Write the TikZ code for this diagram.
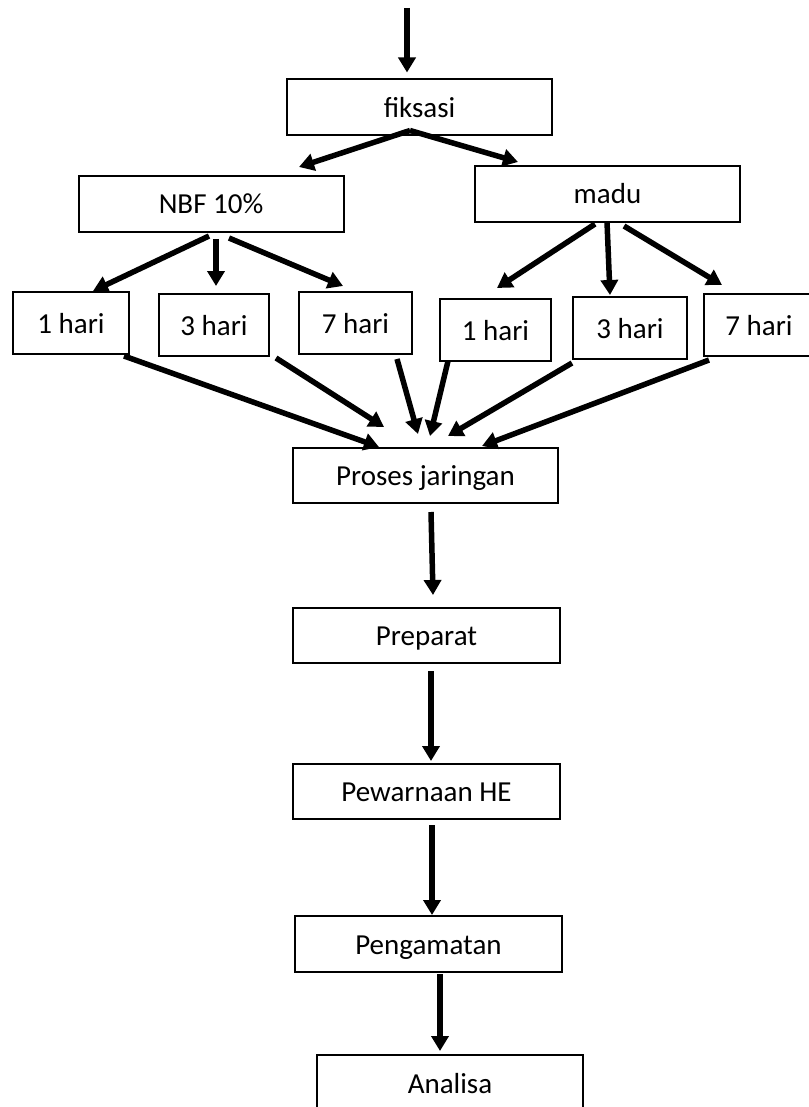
\documentclass[tikz,border=0pt]{standalone}
\usepackage{fontspec}
\setmainfont{Carlito}
\usetikzlibrary{arrows.meta}

\begin{document}
\begin{tikzpicture}[x=1pt, y=-1pt,
    box/.style={rectangle, draw=black, line width=2pt, fill=white,
        minimum width=265pt, minimum height=56pt, inner sep=0pt,
        text height=20pt, text depth=0pt,
        font=\fontsize{29}{35}\selectfont},
    day/.style={box, minimum width=112pt, minimum height=62pt},
    flow/.style={line width=5.5pt, -{Triangle[length=15pt,width=17pt]}}
]
    \useasboundingbox (0,0) rectangle (808,1107);
    \coordinate (start) at (407,8);
    \node[box] (fiksasi) at (419.5,107.5) {fiksasi};
    \node[box] (nbf) at (211,204) {NBF 10\%};
    \node[box] (madu) at (607.5,194) {madu};
    \node[day, minimum width=116pt] (nbfa) at (71,323) {1 hari};
    \node[day, minimum width=110pt] (nbfb) at (214,325) {3 hari};
    \node[day, minimum width=113pt] (nbfc) at (355.5,323) {7 hari};
    \node[day, minimum width=111pt] (madua) at (495.5,330) {1 hari};
    \node[day, minimum width=114pt] (madub) at (630,328) {3 hari};
    \node[day, minimum width=110pt] (maduc) at (759,325) {7 hari};
    \node[box, minimum height=55pt] (proses) at (425.5,475.5) {Proses jaringan};
    \node[box, minimum width=267pt, minimum height=55pt] (preparat) at (426.5,635.5) {Preparat};
    \node[box, minimum width=267pt, minimum height=55pt] (pewarnaan) at (426.5,791.5) {Pewarnaan HE};
    \node[box, minimum width=267pt] (pengamatan) at (428.5,944) {Pengamatan};
    \node[box, minimum width=266pt] (analisa) at (450,1083) {Analisa};
    % top
    \draw[flow] (start) -- ([xshift=-12.5pt,yshift=6pt]fiksasi.north);
    \draw[flow] ([xshift=-9.5pt,yshift=6pt]fiksasi.south) -- ([xshift=88pt,yshift=8pt]nbf.north);
    \draw[flow] ([xshift=-9.5pt,yshift=6pt]fiksasi.south) -- ([xshift=-89.5pt,yshift=3pt]madu.north);
    % NBF 10%
    \draw[flow] ([xshift=-2pt,yshift=-3pt]nbf.south) -- ([xshift=22pt]nbfa.north);
    \draw[flow] ([xshift=5pt,yshift=-6pt]nbf.south) -- ([xshift=2pt,yshift=7pt]nbfb.north);
    \draw[flow] ([xshift=18pt,yshift=-5pt]nbf.south) -- ([xshift=-12.5pt,yshift=5pt]nbfc.north);
    % madu
    \draw[flow] ([xshift=-12.5pt,yshift=-1pt]madu.south) -- ([xshift=1.5pt,yshift=10pt]madua.north);
    \draw[flow] ([xshift=-0.5pt,yshift=1pt]madu.south) -- ([xshift=-20pt,yshift=1pt]madub.north);
    \draw[flow] ([xshift=16.5pt,yshift=-3pt]madu.south) -- ([xshift=-37pt,yshift=8pt]maduc.north);
    % to proses
    \draw[flow] ([xshift=53pt,yshift=-1pt]nbfa.south) -- ([xshift=-46.5pt]proses.north);
    \draw[flow] ([xshift=62pt,yshift=-1pt]nbfb.south) -- ([xshift=-41.5pt,yshift=20pt]proses.north);
    \draw[flow] ([xshift=41.5pt,yshift=-4pt]nbfc.south) -- ([xshift=-7.5pt,yshift=13pt]proses.north);
    \draw[flow] ([xshift=-47.5pt,yshift=1pt]madua.south) -- ([xshift=4.5pt,yshift=11pt]proses.north);
    \draw[flow] ([xshift=-58pt,yshift=-3pt]madub.south) -- ([xshift=22.5pt,yshift=11pt]proses.north);
    \draw[flow] ([xshift=-50pt,yshift=-3pt]maduc.south) -- ([xshift=56.5pt,yshift=1pt]proses.north);
    % chain
    \draw[flow] ([xshift=5.5pt,yshift=-8pt]proses.south) -- ([xshift=6.5pt,yshift=12pt]preparat.north);
    \draw[flow] ([xshift=4.5pt,yshift=-7pt]preparat.south) -- ([xshift=4.5pt,yshift=2pt]pewarnaan.north);
    \draw[flow] ([xshift=5.5pt,yshift=-5pt]pewarnaan.south) -- ([xshift=3.5pt]pengamatan.north);
    \draw[flow] ([xshift=11.5pt,yshift=-1pt]pengamatan.south) -- ([xshift=-10pt,yshift=3pt]analisa.north);
\end{tikzpicture}
\end{document}
